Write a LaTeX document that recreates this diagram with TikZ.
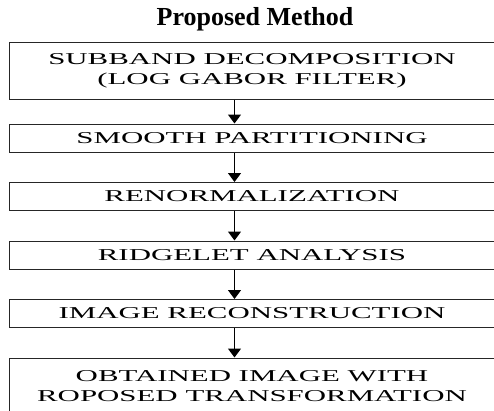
\documentclass[tikz,border=0pt]{standalone}
\usepackage{fontspec}
\setmainfont{Liberation Serif}
\usepackage{tikz}
\usetikzlibrary{positioning,arrows.meta}

\newcommand{\wide}[1]{\scalebox{1.86}[1]{#1}}

\begin{document}
\begin{tikzpicture} [
	stepbox/.style = {draw=black!85, line width=1pt, minimum width=486pt, align=center,
		inner sep=0pt, font=\fontsize{16.6}{20}\selectfont},
	onebox/.style = {stepbox, minimum height=28pt},
	twobox/.style = {stepbox, minimum height=57pt},
	arr/.style = {line width=1.3pt, -{Triangle[width=13pt,length=9pt]}},
	node distance = 29.5pt
]
\useasboundingbox (0,0) rectangle (494pt,-410pt);
\node (title) at (255pt,-19pt) {\fontsize{26}{30}\selectfont\bfseries Proposed Method};
\node (b1) [twobox] at (252pt,-70.5pt) {\wide{SUBBAND DECOMPOSITION}\\ \wide{(LOG GABOR FILTER)}};
\node (b2) [onebox, below=24pt of b1] {\wide{SMOOTH PARTITIONING}};
\node (b3) [onebox, below=of b2] {\wide{RENORMALIZATION}};
\node (b4) [onebox, below=of b3] {\wide{RIDGELET ANALYSIS}};
\node (b5) [onebox, below=of b4] {\wide{IMAGE RECONSTRUCTION}};
\node (b6) [twobox, below=of b5] {\wide{OBTAINED IMAGE WITH}\\ \wide{ROPOSED TRANSFORMATION}};
\draw[arr] ([xshift=-17.5pt]b1.south) -- ([xshift=-17.5pt]b2.north);
\draw[arr] ([xshift=-17.5pt]b2.south) -- ([xshift=-17.5pt]b3.north);
\draw[arr] ([xshift=-17.5pt]b3.south) -- ([xshift=-17.5pt]b4.north);
\draw[arr] ([xshift=-17.5pt]b4.south) -- ([xshift=-17.5pt]b5.north);
\draw[arr] ([xshift=-17.5pt]b5.south) -- ([xshift=-17.5pt]b6.north);
\end{tikzpicture}
\end{document}
